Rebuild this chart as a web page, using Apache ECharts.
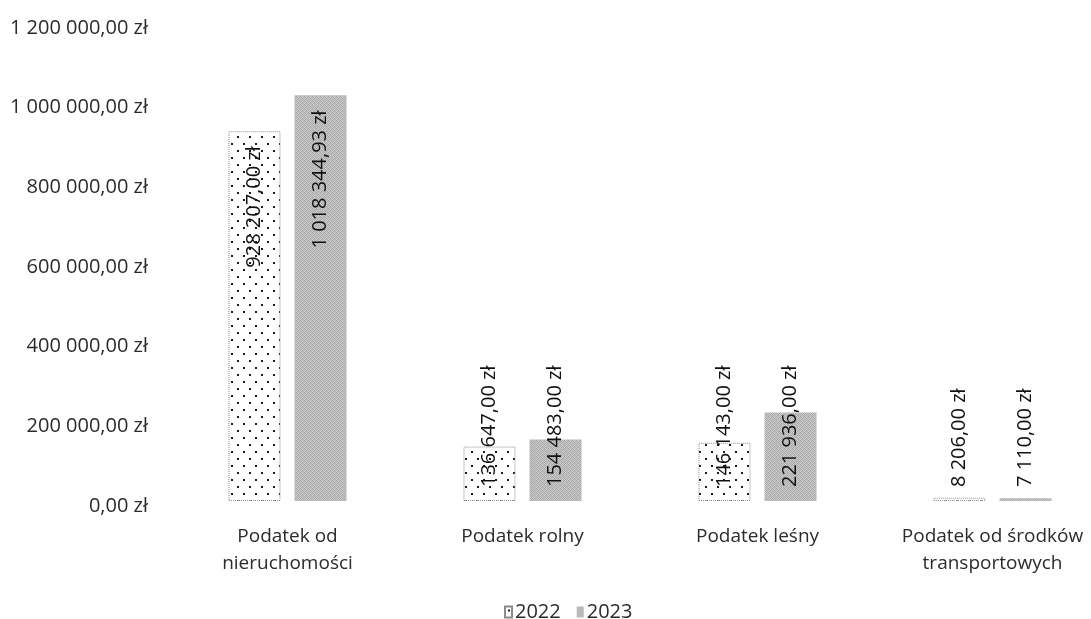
<!DOCTYPE html>
<html>
<head>
<meta charset="utf-8">
<script src="https://cdn.jsdelivr.net/npm/echarts@6/dist/echarts.min.js"></script>
<style>
  html, body { margin: 0; padding: 0; background: #ffffff; }
  #chart { width: 1091px; height: 619px; }
</style>
</head>
<body>
<div id="chart"></div>
<script>
// Dochody z podatków lokalnych, 2022 vs 2023
const categories = [
  'Podatek od\nnieruchomości',
  'Podatek rolny',
  'Podatek leśny',
  'Podatek od środków\ntransportowych'
];
const years = ['2022', '2023'];
const values2022 = [928207.00, 136647.00, 146143.00, 8206.00];
const values2023 = [1018344.93, 154483.00, 221936.00, 7110.00];
const yTicks = { min: 0, max: 1200000, interval: 200000 };

const FONT = '"Open Sans", "Noto Sans", sans-serif';
const TEXT = '#2b2b2b';

// "1 018 344,93 zł"
function zl(v) {
  const parts = Number(v).toFixed(2).split('.');
  const int = parts[0].replace(/\B(?=(\d{3})+(?!\d))/g, ' ');
  return int + ',' + parts[1] + ' zł';
}

// dotted fill for 2022
function dotPattern() {
  const c = document.createElement('canvas');
  c.width = 12; c.height = 14;
  const g = c.getContext('2d');
  g.fillStyle = '#ffffff';
  g.fillRect(0, 0, 12, 14);
  g.fillStyle = '#1a1a1a';
  g.fillRect(3, 3, 2, 2);
  g.fillRect(9, 10, 2, 2);
  return { image: c, repeat: 'repeat' };
}

// fine grey dither for 2023
function greyPattern() {
  const c = document.createElement('canvas');
  c.width = 4; c.height = 4;
  const g = c.getContext('2d');
  const shades = [
    ['#a4a4a4', '#cfcfcf', '#b2b2b2', '#c6c6c6'],
    ['#c2c2c2', '#ababab', '#d0d0d0', '#a9a9a9'],
    ['#b0b0b0', '#cacaca', '#a6a6a6', '#c9c9c9'],
    ['#cdcdcd', '#a8a8a8', '#c4c4c4', '#afafaf']
  ];
  for (let y = 0; y < 4; y++) {
    for (let x = 0; x < 4; x++) {
      g.fillStyle = shades[y][x];
      g.fillRect(x, y, 1, 1);
    }
  }
  return { image: c, repeat: 'repeat' };
}

// tall bars keep their label inside the top; short ones start it from the base
function labelled(values) {
  return values.map(v => {
    const tall = v > yTicks.max * 0.4;
    return {
      value: v,
      label: tall
        ? { position: 'insideTop', align: 'right', distance: 15 }
        : { position: 'insideBottom', align: 'left', distance: 14 }
    };
  });
}

const barLabel = {
  show: true,
  rotate: 90,
  verticalAlign: 'middle',
  fontFamily: FONT,
  fontSize: 20,
  color: '#111111',
  formatter: p => zl(p.value)
};

const chart = echarts.init(document.getElementById('chart'), null, { renderer: 'canvas' });

chart.setOption({
  backgroundColor: '#ffffff',
  animation: false,
  textStyle: { fontFamily: FONT },
  grid: { left: 170, top: 23, width: 940, height: 478, containLabel: false, outerBoundsMode: 'none' },
  legend: {
    data: years,
    left: 499,
    top: 597,
    itemWidth: 7,
    itemHeight: 11,
    itemGap: 16,
    icon: 'rect',
    textStyle: { fontFamily: FONT, fontSize: 20, color: TEXT, padding: [0, 0, 0, -2] }
  },
  xAxis: {
    type: 'category',
    data: categories,
    axisLine: { show: false },
    axisTick: { show: false },
    axisLabel: {
      interval: 0,
      margin: 22,
      fontFamily: FONT,
      fontSize: 19,
      lineHeight: 27,
      color: TEXT
    }
  },
  yAxis: {
    type: 'value',
    min: yTicks.min,
    max: yTicks.max,
    interval: yTicks.interval,
    axisLine: { show: false },
    axisTick: { show: false },
    splitLine: { show: false },
    axisLabel: {
      margin: 22,
      fontFamily: FONT,
      fontSize: 20,
      color: TEXT,
      formatter: v => '{t|' + zl(v) + '}',
      rich: {
        t: { fontFamily: FONT, fontSize: 20, color: TEXT, padding: [10, 0, 0, 0] }
      }
    }
  },
  series: [
    {
      name: years[0],
      type: 'bar',
      barWidth: 52,
      barGap: '27%',
      data: labelled(values2022),
      itemStyle: {
        color: dotPattern(),
        borderColor: '#8a8a8a',
        borderWidth: 1,
        borderType: 'dotted'
      },
      label: barLabel
    },
    {
      name: years[1],
      type: 'bar',
      barWidth: 52,
      data: labelled(values2023),
      itemStyle: { color: greyPattern() },
      label: barLabel
    }
  ]
});
</script>
</body>
</html>
